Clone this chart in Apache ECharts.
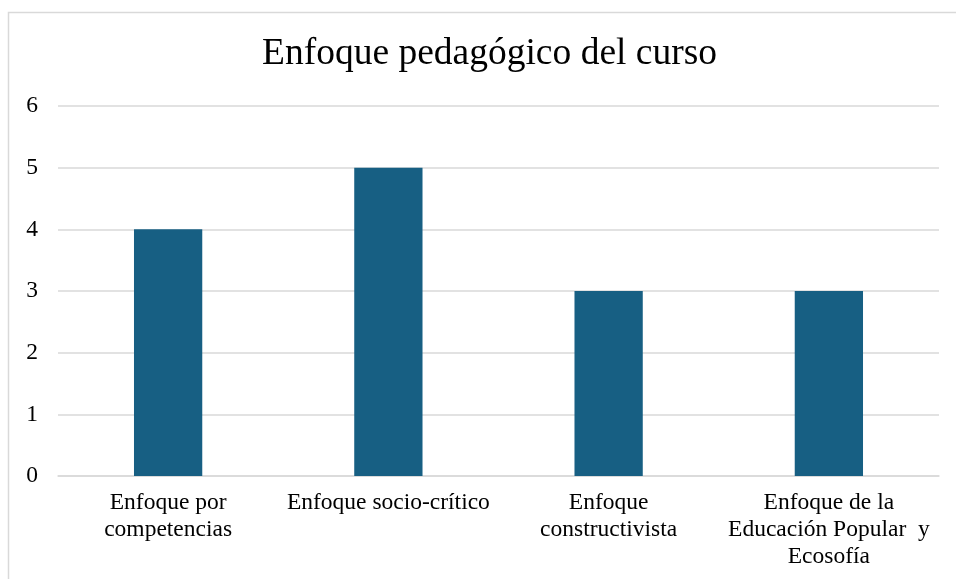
<!DOCTYPE html>
<html>
<head>
<meta charset="utf-8">
<script src="https://cdn.jsdelivr.net/npm/echarts@6/dist/echarts.min.js"></script>
<style>
  html, body { margin: 0; padding: 0; background: #fff; }
  #chart { width: 956px; height: 579px; }
</style>
</head>
<body>
<div id="chart"></div>
<script>
const categories = [
  'Enfoque por\ncompetencias',
  'Enfoque socio-crítico',
  'Enfoque\nconstructivista',
  'Enfoque de la\nEducación Popular  y\nEcosofía'
]
const values = [4, 5, 3, 3]

const chart = echarts.init(document.getElementById('chart'))
const serif = '"Liberation Serif", "Times New Roman", serif'

chart.setOption({
  backgroundColor: '#fff',
  animation: false,
  title: {
    text: 'Enfoque pedagógico del curso',
    left: 257,
    top: 30,
    textStyle: { fontFamily: serif, fontSize: 37.5, fontWeight: 'normal', color: '#000' }
  },
  // marco del gráfico (se sale por la derecha y abajo)
  graphic: [{
    type: 'rect',
    shape: { x: 8.5, y: 12.5, width: 1200, height: 1200 },
    style: { fill: 'none', stroke: '#d9d9d9', lineWidth: 1.5 },
    silent: true
  }],
  grid: { left: 58, right: 17, top: 106, bottom: 103, containLabel: false },
  xAxis: {
    type: 'category',
    data: categories,
    axisLine: { show: true, lineStyle: { color: '#d9d9d9', width: 1.5 } },
    axisTick: { show: false },
    axisLabel: {
      fontFamily: serif, fontSize: 23.5, color: '#000', lineHeight: 27,
      margin: 13, interval: 0
    }
  },
  yAxis: {
    type: 'value',
    min: 0, max: 6, interval: 1,
    axisLine: { show: false },
    axisTick: { show: false },
    splitLine: { lineStyle: { color: '#d9d9d9', width: 1.5 } },
    axisLabel: { fontFamily: serif, fontSize: 23.5, color: '#000', margin: 20 }
  },
  series: [{
    type: 'bar',
    data: values,
    barWidth: '31%',
    itemStyle: { color: '#175f83' }
  }]
})
</script>
</body>
</html>
